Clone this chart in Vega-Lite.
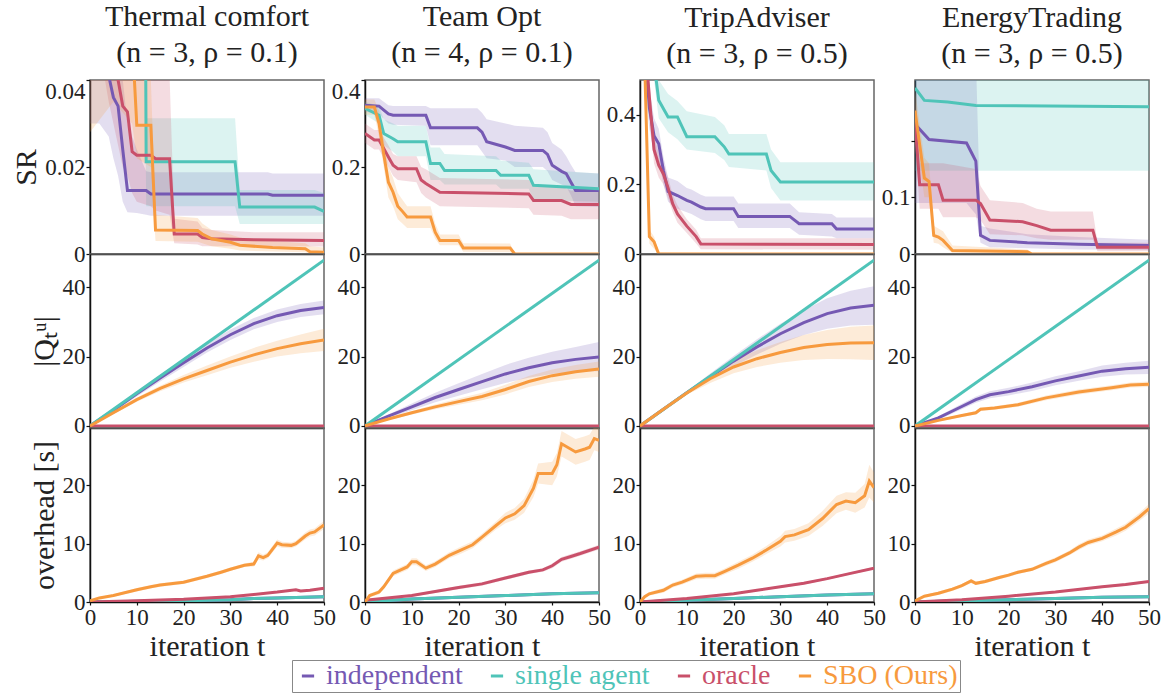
{
"$schema":"https://vega.github.io/schema/vega-lite/v6.json",
"background":"white",
"padding":{"left":11,"top":1,"right":5,"bottom":2},
"data":{"values":[
{"p":"a1","s":"I","t":0,"y":0.09,"l":0.03,"h":0.15},{"p":"a1","s":"I","t":2,"y":0.06,"l":0.03,"h":0.09},{"p":"a1","s":"I","t":4,"y":0.041,"l":0.027,"h":0.055},{"p":"a1","s":"I","t":5,"y":0.036,"l":0.022,"h":0.05},{"p":"a1","s":"I","t":6,"y":0.034,"l":0.018,"h":0.046},{"p":"a1","s":"I","t":7,"y":0.024,"l":0.012,"h":0.04},{"p":"a1","s":"I","t":8,"y":0.0146,"l":0.0096,"h":0.03},{"p":"a1","s":"I","t":10,"y":0.0146,"l":0.0094,"h":0.024},{"p":"a1","s":"I","t":12,"y":0.0146,"l":0.009,"h":0.019},{"p":"a1","s":"I","t":13,"y":0.0138,"l":0.0088,"h":0.0188},{"p":"a1","s":"I","t":38,"y":0.0138,"l":0.0088,"h":0.0188},{"p":"a1","s":"I","t":39,"y":0.0135,"l":0.0088,"h":0.0185},{"p":"a1","s":"I","t":50,"y":0.0135,"l":0.0088,"h":0.0185},
{"p":"a1","s":"S","t":0,"y":0.3,"l":0.2,"h":0.4},{"p":"a1","s":"S","t":11,"y":0.25,"l":0.15,"h":0.35},{"p":"a1","s":"S","t":12,"y":0.0212,"l":0.011,"h":0.0312},{"p":"a1","s":"S","t":31,"y":0.0212,"l":0.011,"h":0.0312},{"p":"a1","s":"S","t":32,"y":0.0108,"l":0.0069,"h":0.0147},{"p":"a1","s":"S","t":48,"y":0.0108,"l":0.0069,"h":0.0147},{"p":"a1","s":"S","t":50,"y":0.0098,"l":0.0069,"h":0.014},
{"p":"a1","s":"O","t":0,"y":0.1,"l":0.06,"h":0.14},{"p":"a1","s":"O","t":4,"y":0.06,"l":0.035,"h":0.08},{"p":"a1","s":"O","t":5,"y":0.05,"l":0.03,"h":0.07},{"p":"a1","s":"O","t":6,"y":0.04,"l":0.025,"h":0.06},{"p":"a1","s":"O","t":7,"y":0.034,"l":0.02,"h":0.05},{"p":"a1","s":"O","t":8,"y":0.0327,"l":0.018,"h":0.05},{"p":"a1","s":"O","t":9,"y":0.0235,"l":0.014,"h":0.045},{"p":"a1","s":"O","t":10,"y":0.0227,"l":0.012,"h":0.042},{"p":"a1","s":"O","t":13,"y":0.0227,"l":0.011,"h":0.042},{"p":"a1","s":"O","t":14,"y":0.0219,"l":0.01,"h":0.041},{"p":"a1","s":"O","t":17,"y":0.0219,"l":0.009,"h":0.041},{"p":"a1","s":"O","t":18,"y":0.0046,"l":0.0025,"h":0.0081},{"p":"a1","s":"O","t":23,"y":0.0046,"l":0.0022,"h":0.0075},{"p":"a1","s":"O","t":24,"y":0.0038,"l":0.0018,"h":0.006},{"p":"a1","s":"O","t":26,"y":0.0035,"l":0.0018,"h":0.0055},{"p":"a1","s":"O","t":35,"y":0.0033,"l":0.0018,"h":0.005},{"p":"a1","s":"O","t":50,"y":0.0031,"l":0.0017,"h":0.005},
{"p":"a1","s":"B","t":0,"y":0.12,"l":0.028,"h":0.2},{"p":"a1","s":"B","t":5,"y":0.08,"l":0.035,"h":0.12},{"p":"a1","s":"B","t":9,"y":0.05,"l":0.03,"h":0.07},{"p":"a1","s":"B","t":10,"y":0.0296,"l":0.022,"h":0.04},{"p":"a1","s":"B","t":13,"y":0.0296,"l":0.02,"h":0.04},{"p":"a1","s":"B","t":14,"y":0.0055,"l":0.003,"h":0.009},{"p":"a1","s":"B","t":23,"y":0.0054,"l":0.0028,"h":0.0083},{"p":"a1","s":"B","t":24,"y":0.0046,"l":0.0025,"h":0.007},{"p":"a1","s":"B","t":26,"y":0.0035,"l":0.0018,"h":0.0055},{"p":"a1","s":"B","t":30,"y":0.0027,"l":0.0012,"h":0.0045},{"p":"a1","s":"B","t":32,"y":0.002,"l":0.0008,"h":0.0038},{"p":"a1","s":"B","t":39,"y":0.0015,"l":0.0006,"h":0.003},{"p":"a1","s":"B","t":46,"y":0.0012,"l":0.0004,"h":0.0025},{"p":"a1","s":"B","t":47,"y":0.0005,"l":0,"h":0.0018},{"p":"a1","s":"B","t":50,"y":0.0004,"l":0,"h":0.0015},

{"p":"a2","s":"I","t":0,"y":0.342,"l":0.327,"h":0.358},{"p":"a2","s":"I","t":3,"y":0.34,"l":0.322,"h":0.358},{"p":"a2","s":"I","t":5,"y":0.322,"l":0.3,"h":0.342},{"p":"a2","s":"I","t":6,"y":0.319,"l":0.297,"h":0.34},{"p":"a2","s":"I","t":13,"y":0.319,"l":0.295,"h":0.34},{"p":"a2","s":"I","t":14,"y":0.29,"l":0.25,"h":0.335},{"p":"a2","s":"I","t":24,"y":0.29,"l":0.25,"h":0.335},{"p":"a2","s":"I","t":25,"y":0.28,"l":0.235,"h":0.325},{"p":"a2","s":"I","t":26,"y":0.258,"l":0.22,"h":0.31},{"p":"a2","s":"I","t":30,"y":0.246,"l":0.215,"h":0.3},{"p":"a2","s":"I","t":32,"y":0.238,"l":0.2,"h":0.295},{"p":"a2","s":"I","t":38,"y":0.238,"l":0.2,"h":0.29},{"p":"a2","s":"I","t":39,"y":0.229,"l":0.19,"h":0.28},{"p":"a2","s":"I","t":40,"y":0.204,"l":0.17,"h":0.255},{"p":"a2","s":"I","t":42,"y":0.19,"l":0.16,"h":0.24},{"p":"a2","s":"I","t":43,"y":0.185,"l":0.155,"h":0.225},{"p":"a2","s":"I","t":44,"y":0.165,"l":0.135,"h":0.205},{"p":"a2","s":"I","t":45,"y":0.146,"l":0.11,"h":0.188},{"p":"a2","s":"I","t":50,"y":0.146,"l":0.108,"h":0.185},
{"p":"a2","s":"S","t":0,"y":0.335,"l":0.32,"h":0.35},{"p":"a2","s":"S","t":3,"y":0.319,"l":0.3,"h":0.34},{"p":"a2","s":"S","t":4,"y":0.277,"l":0.25,"h":0.31},{"p":"a2","s":"S","t":6,"y":0.265,"l":0.235,"h":0.3},{"p":"a2","s":"S","t":7,"y":0.258,"l":0.225,"h":0.295},{"p":"a2","s":"S","t":13,"y":0.258,"l":0.225,"h":0.295},{"p":"a2","s":"S","t":14,"y":0.208,"l":0.17,"h":0.245},{"p":"a2","s":"S","t":16,"y":0.208,"l":0.17,"h":0.245},{"p":"a2","s":"S","t":17,"y":0.192,"l":0.16,"h":0.23},{"p":"a2","s":"S","t":28,"y":0.192,"l":0.16,"h":0.225},{"p":"a2","s":"S","t":29,"y":0.181,"l":0.15,"h":0.215},{"p":"a2","s":"S","t":35,"y":0.181,"l":0.15,"h":0.21},{"p":"a2","s":"S","t":36,"y":0.158,"l":0.125,"h":0.195},{"p":"a2","s":"S","t":50,"y":0.15,"l":0.12,"h":0.185},
{"p":"a2","s":"O","t":0,"y":0.277,"l":0.255,"h":0.3},{"p":"a2","s":"O","t":2,"y":0.262,"l":0.24,"h":0.285},{"p":"a2","s":"O","t":3,"y":0.262,"l":0.24,"h":0.285},{"p":"a2","s":"O","t":5,"y":0.223,"l":0.2,"h":0.25},{"p":"a2","s":"O","t":6,"y":0.204,"l":0.18,"h":0.23},{"p":"a2","s":"O","t":7,"y":0.196,"l":0.17,"h":0.225},{"p":"a2","s":"O","t":11,"y":0.196,"l":0.165,"h":0.225},{"p":"a2","s":"O","t":12,"y":0.17,"l":0.14,"h":0.2},{"p":"a2","s":"O","t":13,"y":0.162,"l":0.13,"h":0.195},{"p":"a2","s":"O","t":16,"y":0.142,"l":0.11,"h":0.175},{"p":"a2","s":"O","t":35,"y":0.138,"l":0.105,"h":0.17},{"p":"a2","s":"O","t":36,"y":0.123,"l":0.09,"h":0.16},{"p":"a2","s":"O","t":42,"y":0.123,"l":0.088,"h":0.155},{"p":"a2","s":"O","t":44,"y":0.114,"l":0.08,"h":0.146},{"p":"a2","s":"O","t":50,"y":0.114,"l":0.08,"h":0.146},
{"p":"a2","s":"B","t":0,"y":0.338,"l":0.32,"h":0.355},{"p":"a2","s":"B","t":2,"y":0.338,"l":0.32,"h":0.355},{"p":"a2","s":"B","t":3,"y":0.3,"l":0.27,"h":0.33},{"p":"a2","s":"B","t":4,"y":0.23,"l":0.2,"h":0.265},{"p":"a2","s":"B","t":5,"y":0.165,"l":0.13,"h":0.2},{"p":"a2","s":"B","t":6,"y":0.142,"l":0.11,"h":0.175},{"p":"a2","s":"B","t":7,"y":0.11,"l":0.08,"h":0.14},{"p":"a2","s":"B","t":8,"y":0.098,"l":0.07,"h":0.125},{"p":"a2","s":"B","t":9,"y":0.085,"l":0.06,"h":0.11},{"p":"a2","s":"B","t":14,"y":0.085,"l":0.06,"h":0.11},{"p":"a2","s":"B","t":15,"y":0.05,"l":0.035,"h":0.07},{"p":"a2","s":"B","t":16,"y":0.031,"l":0.02,"h":0.045},{"p":"a2","s":"B","t":20,"y":0.031,"l":0.02,"h":0.045},{"p":"a2","s":"B","t":21,"y":0.014,"l":0.005,"h":0.025},{"p":"a2","s":"B","t":31,"y":0.014,"l":0.004,"h":0.024},{"p":"a2","s":"B","t":32,"y":0,"l":0,"h":0.002},{"p":"a2","s":"B","t":50,"y":0,"l":0,"h":0},

{"p":"a3","s":"I","t":0,"y":0.8,"l":0.7,"h":0.9},{"p":"a3","s":"I","t":1,"y":0.6,"l":0.5,"h":0.7},{"p":"a3","s":"I","t":2,"y":0.42,"l":0.36,"h":0.48},{"p":"a3","s":"I","t":3,"y":0.34,"l":0.29,"h":0.39},{"p":"a3","s":"I","t":4,"y":0.317,"l":0.27,"h":0.36},{"p":"a3","s":"I","t":5,"y":0.24,"l":0.2,"h":0.28},{"p":"a3","s":"I","t":6,"y":0.18,"l":0.15,"h":0.22},{"p":"a3","s":"I","t":8,"y":0.168,"l":0.13,"h":0.21},{"p":"a3","s":"I","t":10,"y":0.154,"l":0.12,"h":0.19},{"p":"a3","s":"I","t":11,"y":0.149,"l":0.115,"h":0.185},{"p":"a3","s":"I","t":13,"y":0.135,"l":0.1,"h":0.17},{"p":"a3","s":"I","t":14,"y":0.13,"l":0.095,"h":0.165},{"p":"a3","s":"I","t":20,"y":0.13,"l":0.095,"h":0.165},{"p":"a3","s":"I","t":21,"y":0.108,"l":0.075,"h":0.145},{"p":"a3","s":"I","t":32,"y":0.108,"l":0.075,"h":0.145},{"p":"a3","s":"I","t":34,"y":0.087,"l":0.055,"h":0.12},{"p":"a3","s":"I","t":41,"y":0.087,"l":0.05,"h":0.115},{"p":"a3","s":"I","t":42,"y":0.072,"l":0.045,"h":0.105},{"p":"a3","s":"I","t":50,"y":0.072,"l":0.045,"h":0.105},
{"p":"a3","s":"S","t":0,"y":0.9,"l":0.8,"h":1},{"p":"a3","s":"S","t":3,"y":0.55,"l":0.5,"h":0.62},{"p":"a3","s":"S","t":4,"y":0.442,"l":0.39,"h":0.5},{"p":"a3","s":"S","t":6,"y":0.394,"l":0.35,"h":0.46},{"p":"a3","s":"S","t":8,"y":0.394,"l":0.33,"h":0.44},{"p":"a3","s":"S","t":10,"y":0.337,"l":0.3,"h":0.41},{"p":"a3","s":"S","t":16,"y":0.337,"l":0.29,"h":0.394},{"p":"a3","s":"S","t":18,"y":0.308,"l":0.27,"h":0.37},{"p":"a3","s":"S","t":19,"y":0.287,"l":0.25,"h":0.345},{"p":"a3","s":"S","t":27,"y":0.287,"l":0.24,"h":0.345},{"p":"a3","s":"S","t":28,"y":0.24,"l":0.19,"h":0.3},{"p":"a3","s":"S","t":30,"y":0.207,"l":0.154,"h":0.264},{"p":"a3","s":"S","t":50,"y":0.207,"l":0.154,"h":0.264},
{"p":"a3","s":"O","t":0,"y":0.8,"l":0.7,"h":0.9},{"p":"a3","s":"O","t":2,"y":0.45,"l":0.4,"h":0.5},{"p":"a3","s":"O","t":3,"y":0.3,"l":0.26,"h":0.34},{"p":"a3","s":"O","t":4,"y":0.255,"l":0.22,"h":0.29},{"p":"a3","s":"O","t":5,"y":0.23,"l":0.2,"h":0.26},{"p":"a3","s":"O","t":6,"y":0.19,"l":0.16,"h":0.22},{"p":"a3","s":"O","t":7,"y":0.144,"l":0.12,"h":0.17},{"p":"a3","s":"O","t":8,"y":0.115,"l":0.09,"h":0.14},{"p":"a3","s":"O","t":10,"y":0.08,"l":0.06,"h":0.1},{"p":"a3","s":"O","t":12,"y":0.05,"l":0.03,"h":0.07},{"p":"a3","s":"O","t":13,"y":0.029,"l":0.014,"h":0.045},{"p":"a3","s":"O","t":50,"y":0.027,"l":0.012,"h":0.045},
{"p":"a3","s":"B","t":0,"y":0.9,"l":0.8,"h":1},{"p":"a3","s":"B","t":1,"y":0.55,"l":0.45,"h":0.6},{"p":"a3","s":"B","t":2,"y":0.05,"l":0.03,"h":0.07},{"p":"a3","s":"B","t":3,"y":0.035,"l":0.015,"h":0.05},{"p":"a3","s":"B","t":4,"y":0,"l":0,"h":0.005},{"p":"a3","s":"B","t":50,"y":0,"l":0,"h":0},

{"p":"a4","s":"I","t":0,"y":0.229,"l":0.09,"h":0.4},{"p":"a4","s":"I","t":1,"y":0.22,"l":0.09,"h":0.4},{"p":"a4","s":"I","t":3,"y":0.202,"l":0.09,"h":0.4},{"p":"a4","s":"I","t":11,"y":0.196,"l":0.09,"h":0.4},{"p":"a4","s":"I","t":12,"y":0.18,"l":0.08,"h":0.38},{"p":"a4","s":"I","t":13,"y":0.164,"l":0.07,"h":0.35},{"p":"a4","s":"I","t":14,"y":0.033,"l":0.02,"h":0.05},{"p":"a4","s":"I","t":16,"y":0.024,"l":0.012,"h":0.045},{"p":"a4","s":"I","t":24,"y":0.02,"l":0.01,"h":0.035},{"p":"a4","s":"I","t":35,"y":0.017,"l":0.008,"h":0.03},{"p":"a4","s":"I","t":50,"y":0.015,"l":0.007,"h":0.025},
{"p":"a4","s":"S","t":0,"y":0.293,"l":0.147,"h":0.4},{"p":"a4","s":"S","t":2,"y":0.271,"l":0.147,"h":0.4},{"p":"a4","s":"S","t":7,"y":0.268,"l":0.147,"h":0.4},{"p":"a4","s":"S","t":13,"y":0.262,"l":0.147,"h":0.4},{"p":"a4","s":"S","t":50,"y":0.26,"l":0.147,"h":0.4},
{"p":"a4","s":"O","t":0,"y":0.235,"l":0.2,"h":0.27},{"p":"a4","s":"O","t":1,"y":0.122,"l":0.08,"h":0.16},{"p":"a4","s":"O","t":5,"y":0.122,"l":0.08,"h":0.16},{"p":"a4","s":"O","t":6,"y":0.095,"l":0.065,"h":0.16},{"p":"a4","s":"O","t":13,"y":0.095,"l":0.065,"h":0.15},{"p":"a4","s":"O","t":14,"y":0.089,"l":0.06,"h":0.12},{"p":"a4","s":"O","t":16,"y":0.06,"l":0.035,"h":0.095},{"p":"a4","s":"O","t":23,"y":0.057,"l":0.033,"h":0.09},{"p":"a4","s":"O","t":26,"y":0.05,"l":0.028,"h":0.08},{"p":"a4","s":"O","t":29,"y":0.042,"l":0.025,"h":0.075},{"p":"a4","s":"O","t":38,"y":0.042,"l":0.025,"h":0.075},{"p":"a4","s":"O","t":39,"y":0.012,"l":0.005,"h":0.02},{"p":"a4","s":"O","t":50,"y":0.012,"l":0.005,"h":0.02},
{"p":"a4","s":"B","t":0,"y":0.253,"l":0.22,"h":0.29},{"p":"a4","s":"B","t":1,"y":0.193,"l":0.16,"h":0.23},{"p":"a4","s":"B","t":2,"y":0.134,"l":0.1,"h":0.17},{"p":"a4","s":"B","t":3,"y":0.128,"l":0.1,"h":0.16},{"p":"a4","s":"B","t":4,"y":0.033,"l":0.02,"h":0.05},{"p":"a4","s":"B","t":5,"y":0.03,"l":0.018,"h":0.045},{"p":"a4","s":"B","t":6,"y":0.024,"l":0.012,"h":0.04},{"p":"a4","s":"B","t":8,"y":0.006,"l":0.002,"h":0.015},{"p":"a4","s":"B","t":24,"y":0.004,"l":0.001,"h":0.008},{"p":"a4","s":"B","t":25,"y":0,"l":0,"h":0.002},{"p":"a4","s":"B","t":50,"y":0,"l":0,"h":0},

{"p":"b1","s":"I","t":0,"y":0,"l":0,"h":0},{"p":"b1","s":"I","t":5,"y":4.5,"l":4,"h":5},{"p":"b1","s":"I","t":10,"y":9.3,"l":8.5,"h":10.1},{"p":"b1","s":"I","t":15,"y":13.8,"l":12.8,"h":14.8},{"p":"b1","s":"I","t":20,"y":18.2,"l":17,"h":19.4},{"p":"b1","s":"I","t":25,"y":22.5,"l":21.2,"h":23.8},{"p":"b1","s":"I","t":30,"y":26.3,"l":24.8,"h":27.8},{"p":"b1","s":"I","t":35,"y":29.5,"l":27.9,"h":31.1},{"p":"b1","s":"I","t":40,"y":31.8,"l":30,"h":33.6},{"p":"b1","s":"I","t":45,"y":33.3,"l":31.4,"h":35.2},{"p":"b1","s":"I","t":50,"y":34.2,"l":32.2,"h":36.2},
{"p":"b1","s":"S","t":0,"y":0,"l":0,"h":0},{"p":"b1","s":"S","t":50,"y":47.8,"l":47.8,"h":47.8},
{"p":"b1","s":"O","t":0,"y":0,"l":-0.3,"h":0.3},{"p":"b1","s":"O","t":50,"y":0,"l":-0.3,"h":0.3},
{"p":"b1","s":"B","t":0,"y":0,"l":0,"h":0},{"p":"b1","s":"B","t":5,"y":3.8,"l":3.4,"h":4.2},{"p":"b1","s":"B","t":10,"y":7.6,"l":7,"h":8.2},{"p":"b1","s":"B","t":15,"y":10.8,"l":10,"h":11.6},{"p":"b1","s":"B","t":20,"y":13.6,"l":12.5,"h":14.7},{"p":"b1","s":"B","t":25,"y":16,"l":14.6,"h":17.4},{"p":"b1","s":"B","t":30,"y":18.4,"l":16.8,"h":20},{"p":"b1","s":"B","t":35,"y":20.5,"l":18.5,"h":22.5},{"p":"b1","s":"B","t":40,"y":22.3,"l":20,"h":24.6},{"p":"b1","s":"B","t":45,"y":23.7,"l":21,"h":26.4},{"p":"b1","s":"B","t":50,"y":24.8,"l":21.6,"h":28},

{"p":"b2","s":"I","t":0,"y":0,"l":0,"h":0},{"p":"b2","s":"I","t":5,"y":2.8,"l":2.3,"h":3.3},{"p":"b2","s":"I","t":10,"y":5.5,"l":4.5,"h":6.5},{"p":"b2","s":"I","t":15,"y":8.2,"l":6.8,"h":9.6},{"p":"b2","s":"I","t":20,"y":10.5,"l":8.7,"h":12.3},{"p":"b2","s":"I","t":25,"y":12.8,"l":10.6,"h":15},{"p":"b2","s":"I","t":30,"y":15,"l":12.4,"h":17.6},{"p":"b2","s":"I","t":35,"y":16.8,"l":13.9,"h":19.7},{"p":"b2","s":"I","t":40,"y":18.2,"l":15,"h":21.4},{"p":"b2","s":"I","t":45,"y":19.2,"l":15.6,"h":22.8},{"p":"b2","s":"I","t":50,"y":19.9,"l":15.8,"h":24.2},
{"p":"b2","s":"S","t":0,"y":0,"l":0,"h":0},{"p":"b2","s":"S","t":50,"y":47.8,"l":47.8,"h":47.8},
{"p":"b2","s":"O","t":0,"y":0,"l":-0.3,"h":0.3},{"p":"b2","s":"O","t":50,"y":0,"l":-0.3,"h":0.3},
{"p":"b2","s":"B","t":0,"y":0,"l":0,"h":0},{"p":"b2","s":"B","t":5,"y":2,"l":1.7,"h":2.3},{"p":"b2","s":"B","t":10,"y":3.8,"l":3.3,"h":4.3},{"p":"b2","s":"B","t":15,"y":5.5,"l":4.8,"h":6.2},{"p":"b2","s":"B","t":20,"y":7,"l":6.1,"h":7.9},{"p":"b2","s":"B","t":25,"y":8.5,"l":7.4,"h":9.6},{"p":"b2","s":"B","t":30,"y":10.5,"l":9.1,"h":11.9},{"p":"b2","s":"B","t":35,"y":12.8,"l":11.2,"h":14.4},{"p":"b2","s":"B","t":40,"y":14.5,"l":12.7,"h":16.3},{"p":"b2","s":"B","t":45,"y":15.6,"l":13.6,"h":17.6},{"p":"b2","s":"B","t":50,"y":16.4,"l":14.2,"h":18.6},

{"p":"b3","s":"I","t":0,"y":0,"l":0,"h":0},{"p":"b3","s":"I","t":5,"y":4.8,"l":4.6,"h":5},{"p":"b3","s":"I","t":10,"y":9.6,"l":9.2,"h":10},{"p":"b3","s":"I","t":15,"y":14.2,"l":13.3,"h":15.1},{"p":"b3","s":"I","t":20,"y":18.7,"l":17.2,"h":20.2},{"p":"b3","s":"I","t":25,"y":22.8,"l":20.6,"h":25},{"p":"b3","s":"I","t":30,"y":26.6,"l":23.7,"h":29.5},{"p":"b3","s":"I","t":35,"y":29.8,"l":26.2,"h":33.4},{"p":"b3","s":"I","t":40,"y":32.4,"l":28,"h":36.8},{"p":"b3","s":"I","t":45,"y":34,"l":29,"h":39},{"p":"b3","s":"I","t":50,"y":34.8,"l":29.2,"h":40.3},
{"p":"b3","s":"S","t":0,"y":0,"l":0,"h":0},{"p":"b3","s":"S","t":50,"y":47.8,"l":47.8,"h":47.8},
{"p":"b3","s":"O","t":0,"y":0,"l":-0.3,"h":0.3},{"p":"b3","s":"O","t":50,"y":0,"l":-0.3,"h":0.3},
{"p":"b3","s":"B","t":0,"y":0,"l":0,"h":0},{"p":"b3","s":"B","t":5,"y":4.8,"l":4.6,"h":5},{"p":"b3","s":"B","t":10,"y":9.5,"l":9,"h":10},{"p":"b3","s":"B","t":15,"y":13.6,"l":12.4,"h":14.8},{"p":"b3","s":"B","t":20,"y":17,"l":15.2,"h":18.8},{"p":"b3","s":"B","t":25,"y":19.4,"l":17,"h":21.8},{"p":"b3","s":"B","t":30,"y":21.2,"l":18.2,"h":24.2},{"p":"b3","s":"B","t":35,"y":22.6,"l":19,"h":26.2},{"p":"b3","s":"B","t":40,"y":23.5,"l":19.3,"h":27.7},{"p":"b3","s":"B","t":45,"y":23.9,"l":19.2,"h":28.6},{"p":"b3","s":"B","t":50,"y":24,"l":19,"h":29},

{"p":"b4","s":"I","t":0,"y":0,"l":0,"h":0},{"p":"b4","s":"I","t":5,"y":2.3,"l":1.8,"h":2.8},{"p":"b4","s":"I","t":10,"y":5.6,"l":4.8,"h":6.4},{"p":"b4","s":"I","t":13,"y":7.6,"l":6.7,"h":8.5},{"p":"b4","s":"I","t":16,"y":9,"l":8,"h":10},{"p":"b4","s":"I","t":20,"y":9.9,"l":8.8,"h":11},{"p":"b4","s":"I","t":25,"y":11.3,"l":10.1,"h":12.5},{"p":"b4","s":"I","t":30,"y":13,"l":11.7,"h":14.3},{"p":"b4","s":"I","t":35,"y":14.4,"l":13,"h":15.8},{"p":"b4","s":"I","t":40,"y":15.8,"l":14.2,"h":17.4},{"p":"b4","s":"I","t":45,"y":16.5,"l":14.8,"h":18.2},{"p":"b4","s":"I","t":50,"y":16.9,"l":15,"h":18.8},
{"p":"b4","s":"S","t":0,"y":0,"l":0,"h":0},{"p":"b4","s":"S","t":50,"y":47.8,"l":47.8,"h":47.8},
{"p":"b4","s":"O","t":0,"y":0,"l":-0.3,"h":0.3},{"p":"b4","s":"O","t":50,"y":0,"l":-0.3,"h":0.3},
{"p":"b4","s":"B","t":0,"y":0,"l":0,"h":0},{"p":"b4","s":"B","t":5,"y":1.6,"l":1.3,"h":1.9},{"p":"b4","s":"B","t":10,"y":3,"l":2.6,"h":3.4},{"p":"b4","s":"B","t":13,"y":3.8,"l":3.3,"h":4.3},{"p":"b4","s":"B","t":14,"y":4.8,"l":4.3,"h":5.3},{"p":"b4","s":"B","t":17,"y":5.2,"l":4.7,"h":5.7},{"p":"b4","s":"B","t":22,"y":6.1,"l":5.5,"h":6.7},{"p":"b4","s":"B","t":28,"y":8.1,"l":7.4,"h":8.8},{"p":"b4","s":"B","t":35,"y":9.8,"l":9.1,"h":10.5},{"p":"b4","s":"B","t":42,"y":11,"l":10.3,"h":11.7},{"p":"b4","s":"B","t":46,"y":11.8,"l":11.1,"h":12.5},{"p":"b4","s":"B","t":50,"y":12,"l":11.2,"h":12.8},

{"p":"c1","s":"I","t":0,"y":0,"l":0,"h":0},{"p":"c1","s":"I","t":20,"y":0.2,"l":0.1,"h":0.3},{"p":"c1","s":"I","t":30,"y":0.4,"l":0.3,"h":0.5},{"p":"c1","s":"I","t":35,"y":0.6,"l":0.5,"h":0.7},{"p":"c1","s":"I","t":40,"y":0.7,"l":0.6,"h":0.8},{"p":"c1","s":"I","t":50,"y":0.9,"l":0.8,"h":1},
{"p":"c1","s":"S","t":0,"y":0,"l":0,"h":0},{"p":"c1","s":"S","t":20,"y":0.2,"l":0.1,"h":0.3},{"p":"c1","s":"S","t":30,"y":0.4,"l":0.3,"h":0.5},{"p":"c1","s":"S","t":35,"y":0.6,"l":0.5,"h":0.7},{"p":"c1","s":"S","t":40,"y":0.7,"l":0.6,"h":0.8},{"p":"c1","s":"S","t":50,"y":0.9,"l":0.8,"h":1},
{"p":"c1","s":"O","t":0,"y":0,"l":0,"h":0.15},{"p":"c1","s":"O","t":10,"y":0.2,"l":0.05,"h":0.35},{"p":"c1","s":"O","t":20,"y":0.45,"l":0.3,"h":0.6},{"p":"c1","s":"O","t":30,"y":0.9,"l":0.75,"h":1.05},{"p":"c1","s":"O","t":35,"y":1.3,"l":1.15,"h":1.45},{"p":"c1","s":"O","t":40,"y":1.7,"l":1.55,"h":1.85},{"p":"c1","s":"O","t":44,"y":2.1,"l":1.95,"h":2.25},{"p":"c1","s":"O","t":45,"y":1.9,"l":1.75,"h":2.05},{"p":"c1","s":"O","t":47,"y":2,"l":1.85,"h":2.15},{"p":"c1","s":"O","t":50,"y":2.35,"l":2.2,"h":2.5},
{"p":"c1","s":"B","t":0,"y":0.2,"l":0.1,"h":0.3},{"p":"c1","s":"B","t":2,"y":0.7,"l":0.5,"h":0.9},{"p":"c1","s":"B","t":5,"y":1.1,"l":0.9,"h":1.3},{"p":"c1","s":"B","t":10,"y":2.1,"l":1.8,"h":2.4},{"p":"c1","s":"B","t":13,"y":2.6,"l":2.3,"h":2.9},{"p":"c1","s":"B","t":15,"y":2.9,"l":2.6,"h":3.2},{"p":"c1","s":"B","t":20,"y":3.4,"l":3.1,"h":3.7},{"p":"c1","s":"B","t":25,"y":4.4,"l":4.1,"h":4.7},{"p":"c1","s":"B","t":28,"y":5.1,"l":4.8,"h":5.4},{"p":"c1","s":"B","t":30,"y":5.6,"l":5.3,"h":5.9},{"p":"c1","s":"B","t":33,"y":6.3,"l":6,"h":6.6},{"p":"c1","s":"B","t":35,"y":6.5,"l":6.1,"h":6.9},{"p":"c1","s":"B","t":36,"y":7.9,"l":7.3,"h":8.5},{"p":"c1","s":"B","t":37,"y":7.6,"l":7.1,"h":8.1},{"p":"c1","s":"B","t":38,"y":8,"l":7.5,"h":8.5},{"p":"c1","s":"B","t":40,"y":10.1,"l":9.5,"h":10.7},{"p":"c1","s":"B","t":41,"y":9.8,"l":9.3,"h":10.3},{"p":"c1","s":"B","t":43,"y":9.7,"l":9.2,"h":10.2},{"p":"c1","s":"B","t":44,"y":10,"l":9.5,"h":10.5},{"p":"c1","s":"B","t":46,"y":11.3,"l":10.7,"h":11.9},{"p":"c1","s":"B","t":47,"y":11.8,"l":11.2,"h":12.4},{"p":"c1","s":"B","t":48,"y":12,"l":11.4,"h":12.6},{"p":"c1","s":"B","t":50,"y":13.2,"l":12.5,"h":13.9},

{"p":"c2","s":"I","t":0,"y":0,"l":0,"h":0},{"p":"c2","s":"I","t":10,"y":0.5,"l":0.4,"h":0.6},{"p":"c2","s":"I","t":20,"y":0.8,"l":0.7,"h":0.9},{"p":"c2","s":"I","t":30,"y":1.1,"l":1,"h":1.2},{"p":"c2","s":"I","t":40,"y":1.4,"l":1.3,"h":1.5},{"p":"c2","s":"I","t":50,"y":1.6,"l":1.5,"h":1.7},
{"p":"c2","s":"S","t":0,"y":0,"l":0,"h":0},{"p":"c2","s":"S","t":10,"y":0.5,"l":0.4,"h":0.6},{"p":"c2","s":"S","t":20,"y":0.8,"l":0.7,"h":0.9},{"p":"c2","s":"S","t":30,"y":1.1,"l":1,"h":1.2},{"p":"c2","s":"S","t":40,"y":1.4,"l":1.3,"h":1.5},{"p":"c2","s":"S","t":50,"y":1.6,"l":1.5,"h":1.7},
{"p":"c2","s":"O","t":0,"y":0.3,"l":0.2,"h":0.4},{"p":"c2","s":"O","t":10,"y":1.1,"l":0.9,"h":1.3},{"p":"c2","s":"O","t":20,"y":2.5,"l":2.2,"h":2.8},{"p":"c2","s":"O","t":25,"y":3.1,"l":2.8,"h":3.4},{"p":"c2","s":"O","t":30,"y":4.1,"l":3.8,"h":4.4},{"p":"c2","s":"O","t":35,"y":5.1,"l":4.8,"h":5.4},{"p":"c2","s":"O","t":38,"y":5.5,"l":5.2,"h":5.8},{"p":"c2","s":"O","t":40,"y":6.2,"l":5.8,"h":6.6},{"p":"c2","s":"O","t":42,"y":7.3,"l":6.9,"h":7.7},{"p":"c2","s":"O","t":44,"y":7.8,"l":7.4,"h":8.2},{"p":"c2","s":"O","t":46,"y":8.3,"l":7.9,"h":8.7},{"p":"c2","s":"O","t":50,"y":9.4,"l":9,"h":9.8},
{"p":"c2","s":"B","t":0,"y":0,"l":0,"h":0},{"p":"c2","s":"B","t":1,"y":1.1,"l":0.8,"h":1.4},{"p":"c2","s":"B","t":3,"y":1.7,"l":1.3,"h":2.1},{"p":"c2","s":"B","t":4,"y":2.6,"l":2.2,"h":3},{"p":"c2","s":"B","t":6,"y":4.9,"l":4.4,"h":5.4},{"p":"c2","s":"B","t":9,"y":6,"l":5.5,"h":6.5},{"p":"c2","s":"B","t":10,"y":6.9,"l":6.3,"h":7.5},{"p":"c2","s":"B","t":11,"y":6.9,"l":6.3,"h":7.5},{"p":"c2","s":"B","t":13,"y":5.8,"l":5.3,"h":6.3},{"p":"c2","s":"B","t":15,"y":6.5,"l":6,"h":7},{"p":"c2","s":"B","t":18,"y":8,"l":7.5,"h":8.5},{"p":"c2","s":"B","t":20,"y":8.7,"l":8.1,"h":9.3},{"p":"c2","s":"B","t":23,"y":9.8,"l":9.2,"h":10.4},{"p":"c2","s":"B","t":25,"y":11.1,"l":10.5,"h":11.7},{"p":"c2","s":"B","t":28,"y":13.1,"l":12.4,"h":13.8},{"p":"c2","s":"B","t":30,"y":14.4,"l":13.5,"h":15.3},{"p":"c2","s":"B","t":32,"y":15.1,"l":14.1,"h":16.1},{"p":"c2","s":"B","t":34,"y":16.5,"l":15.3,"h":17.7},{"p":"c2","s":"B","t":36,"y":19.5,"l":18,"h":21},{"p":"c2","s":"B","t":37,"y":22,"l":20.3,"h":23.7},{"p":"c2","s":"B","t":40,"y":22,"l":20,"h":24},{"p":"c2","s":"B","t":41,"y":23.5,"l":21.5,"h":25.5},{"p":"c2","s":"B","t":42,"y":27.1,"l":24.9,"h":29.3},{"p":"c2","s":"B","t":45,"y":25.7,"l":23.5,"h":27.9},{"p":"c2","s":"B","t":47,"y":26.2,"l":24,"h":28.4},{"p":"c2","s":"B","t":48,"y":26.5,"l":24.3,"h":28.7},{"p":"c2","s":"B","t":49,"y":28,"l":26,"h":30},{"p":"c2","s":"B","t":50,"y":27.7,"l":25.7,"h":29.7},

{"p":"c3","s":"I","t":0,"y":0,"l":0,"h":0},{"p":"c3","s":"I","t":10,"y":0.3,"l":0.2,"h":0.4},{"p":"c3","s":"I","t":20,"y":0.6,"l":0.5,"h":0.7},{"p":"c3","s":"I","t":30,"y":0.9,"l":0.8,"h":1},{"p":"c3","s":"I","t":40,"y":1.2,"l":1.1,"h":1.3},{"p":"c3","s":"I","t":50,"y":1.4,"l":1.3,"h":1.5},
{"p":"c3","s":"S","t":0,"y":0,"l":0,"h":0},{"p":"c3","s":"S","t":10,"y":0.3,"l":0.2,"h":0.4},{"p":"c3","s":"S","t":20,"y":0.6,"l":0.5,"h":0.7},{"p":"c3","s":"S","t":30,"y":0.9,"l":0.8,"h":1},{"p":"c3","s":"S","t":40,"y":1.2,"l":1.1,"h":1.3},{"p":"c3","s":"S","t":50,"y":1.4,"l":1.3,"h":1.5},
{"p":"c3","s":"O","t":0,"y":0,"l":0,"h":0.1},{"p":"c3","s":"O","t":10,"y":0.6,"l":0.45,"h":0.75},{"p":"c3","s":"O","t":20,"y":1.4,"l":1.25,"h":1.55},{"p":"c3","s":"O","t":25,"y":2,"l":1.85,"h":2.15},{"p":"c3","s":"O","t":30,"y":2.6,"l":2.4,"h":2.8},{"p":"c3","s":"O","t":35,"y":3.2,"l":3,"h":3.4},{"p":"c3","s":"O","t":40,"y":4,"l":3.8,"h":4.2},{"p":"c3","s":"O","t":45,"y":4.9,"l":4.7,"h":5.1},{"p":"c3","s":"O","t":50,"y":5.8,"l":5.6,"h":6},
{"p":"c3","s":"B","t":0,"y":0,"l":0,"h":0},{"p":"c3","s":"B","t":1,"y":0.9,"l":0.6,"h":1.2},{"p":"c3","s":"B","t":2,"y":1.4,"l":1.1,"h":1.7},{"p":"c3","s":"B","t":5,"y":2,"l":1.6,"h":2.4},{"p":"c3","s":"B","t":7,"y":2.9,"l":2.5,"h":3.3},{"p":"c3","s":"B","t":9,"y":3.4,"l":3,"h":3.8},{"p":"c3","s":"B","t":12,"y":4.4,"l":3.9,"h":4.9},{"p":"c3","s":"B","t":14,"y":4.5,"l":4,"h":5},{"p":"c3","s":"B","t":16,"y":4.5,"l":4,"h":5},{"p":"c3","s":"B","t":18,"y":5.2,"l":4.7,"h":5.7},{"p":"c3","s":"B","t":21,"y":6.3,"l":5.7,"h":6.9},{"p":"c3","s":"B","t":24,"y":7.5,"l":6.9,"h":8.1},{"p":"c3","s":"B","t":27,"y":8.9,"l":8.2,"h":9.6},{"p":"c3","s":"B","t":30,"y":10.4,"l":9.5,"h":11.3},{"p":"c3","s":"B","t":31,"y":11.2,"l":10.2,"h":12.2},{"p":"c3","s":"B","t":33,"y":11.5,"l":10.5,"h":12.5},{"p":"c3","s":"B","t":36,"y":12.4,"l":11.3,"h":13.5},{"p":"c3","s":"B","t":39,"y":14.3,"l":13,"h":15.6},{"p":"c3","s":"B","t":42,"y":16.7,"l":15.2,"h":18.2},{"p":"c3","s":"B","t":44,"y":17.3,"l":15.8,"h":18.8},{"p":"c3","s":"B","t":46,"y":17,"l":15.3,"h":18.7},{"p":"c3","s":"B","t":48,"y":18.2,"l":16.2,"h":20.2},{"p":"c3","s":"B","t":49,"y":20.7,"l":17.9,"h":23.5},{"p":"c3","s":"B","t":50,"y":19.6,"l":17,"h":22.2},

{"p":"c4","s":"I","t":0,"y":0,"l":0,"h":0},{"p":"c4","s":"I","t":10,"y":0.2,"l":0.1,"h":0.3},{"p":"c4","s":"I","t":20,"y":0.4,"l":0.3,"h":0.5},{"p":"c4","s":"I","t":30,"y":0.6,"l":0.5,"h":0.7},{"p":"c4","s":"I","t":40,"y":0.8,"l":0.7,"h":0.9},{"p":"c4","s":"I","t":50,"y":0.9,"l":0.8,"h":1},
{"p":"c4","s":"S","t":0,"y":0,"l":0,"h":0},{"p":"c4","s":"S","t":10,"y":0.2,"l":0.1,"h":0.3},{"p":"c4","s":"S","t":20,"y":0.4,"l":0.3,"h":0.5},{"p":"c4","s":"S","t":30,"y":0.6,"l":0.5,"h":0.7},{"p":"c4","s":"S","t":40,"y":0.8,"l":0.7,"h":0.9},{"p":"c4","s":"S","t":50,"y":0.9,"l":0.8,"h":1},
{"p":"c4","s":"O","t":0,"y":0,"l":0,"h":0.1},{"p":"c4","s":"O","t":10,"y":0.4,"l":0.3,"h":0.5},{"p":"c4","s":"O","t":20,"y":1,"l":0.85,"h":1.15},{"p":"c4","s":"O","t":30,"y":1.7,"l":1.55,"h":1.85},{"p":"c4","s":"O","t":40,"y":2.6,"l":2.4,"h":2.8},{"p":"c4","s":"O","t":45,"y":3,"l":2.8,"h":3.2},{"p":"c4","s":"O","t":50,"y":3.5,"l":3.3,"h":3.7},
{"p":"c4","s":"B","t":0,"y":0.2,"l":0.1,"h":0.3},{"p":"c4","s":"B","t":2,"y":1,"l":0.8,"h":1.2},{"p":"c4","s":"B","t":5,"y":1.5,"l":1.2,"h":1.8},{"p":"c4","s":"B","t":8,"y":2.2,"l":1.9,"h":2.5},{"p":"c4","s":"B","t":10,"y":2.8,"l":2.5,"h":3.1},{"p":"c4","s":"B","t":12,"y":3.6,"l":3.2,"h":4},{"p":"c4","s":"B","t":13,"y":3.2,"l":2.9,"h":3.5},{"p":"c4","s":"B","t":15,"y":3.5,"l":3.2,"h":3.8},{"p":"c4","s":"B","t":18,"y":4.2,"l":3.9,"h":4.5},{"p":"c4","s":"B","t":20,"y":4.6,"l":4.3,"h":4.9},{"p":"c4","s":"B","t":22,"y":5.1,"l":4.8,"h":5.4},{"p":"c4","s":"B","t":25,"y":5.6,"l":5.3,"h":5.9},{"p":"c4","s":"B","t":28,"y":6.6,"l":6.2,"h":7},{"p":"c4","s":"B","t":30,"y":7.2,"l":6.8,"h":7.6},{"p":"c4","s":"B","t":33,"y":8.4,"l":8,"h":8.8},{"p":"c4","s":"B","t":35,"y":9.4,"l":8.9,"h":9.9},{"p":"c4","s":"B","t":37,"y":10.2,"l":9.7,"h":10.7},{"p":"c4","s":"B","t":40,"y":10.9,"l":10.4,"h":11.4},{"p":"c4","s":"B","t":43,"y":12,"l":11.4,"h":12.6},{"p":"c4","s":"B","t":45,"y":12.8,"l":12.2,"h":13.4},{"p":"c4","s":"B","t":48,"y":14.6,"l":13.9,"h":15.3},{"p":"c4","s":"B","t":50,"y":16,"l":15.2,"h":16.8}
]},
"columns":4,
"spacing":{"row":0,"column":41},
"bounds":"flush",
"resolve":{"scale":{"x":"independent","y":"independent"}},
"concat":[
{"width":234,"height":174,"title":{"text":["Thermal comfort","(n = 3, ρ = 0.1)"],"fontWeight":"normal"},"transform":[{"filter":"datum.p=='a1'"}],
 "encoding":{"x":{"field":"t","type":"quantitative","scale":{"domain":[0,50],"nice":false},"axis":{"labels":false,"ticks":false,"title":null}},
  "color":{"field":"s","type":"nominal","scale":{"domain":["I","S","O","B"],"range":["#7559b3","#4fc4b8","#c9506a","#f79a3e"]},"legend":{"title":null,"orient":"none","legendX":202,"legendY":580,"direction":"horizontal","labelExpr":"datum.label=='I'?'independent':datum.label=='S'?'single agent':datum.label=='O'?'oracle':'SBO (Ours)'","symbolType":"stroke","symbolSize":150,"symbolStrokeWidth":3,"symbolOpacity":1,"labelFont":"Liberation Serif, Times New Roman, serif","labelFontSize":28,"labelOffset":4,"columnPadding":20,"strokeColor":"#888","padding":2,"encode":{"labels":{"update":{"fill":{"signal":"scale('color', datum.value)"},"font":{"value":"Liberation Serif, Times New Roman, serif"}}}}}}},
 "layer":[{"mark":{"type":"area","opacity":0.2,"clip":true},"encoding":{"y":{"field":"l","type":"quantitative","scale":{"domain":[0,0.04],"nice":false,"zero":false},"axis":{"title":"SR","values":[0,0.02,0.04],"format":"~g","labelFont":"Liberation Serif, Times New Roman, serif","titleFont":"Liberation Serif, Times New Roman, serif","labelBaseline":{"condition":{"test":"datum.value > 0.039","value":"top"},"value":"middle"}}},"y2":{"field":"h"}}},
  {"mark":{"type":"line","strokeWidth":3,"clip":true},"encoding":{"y":{"field":"y","type":"quantitative","scale":{"domain":[0,0.04],"nice":false,"zero":false},"axis":{"title":"SR","values":[0,0.02,0.04],"format":"~g","labelFont":"Liberation Serif, Times New Roman, serif","titleFont":"Liberation Serif, Times New Roman, serif","labelBaseline":{"condition":{"test":"datum.value > 0.039","value":"top"},"value":"middle"}}}}}]},
{"width":234,"height":174,"title":{"text":["Team Opt","(n = 4, ρ = 0.1)"],"fontWeight":"normal"},"transform":[{"filter":"datum.p=='a2'"}],
 "encoding":{"x":{"field":"t","type":"quantitative","scale":{"domain":[0,50],"nice":false},"axis":{"labels":false,"ticks":false,"title":null}},
  "color":{"field":"s","type":"nominal","scale":{"domain":["I","S","O","B"],"range":["#7559b3","#4fc4b8","#c9506a","#f79a3e"]}}},
 "layer":[{"mark":{"type":"area","opacity":0.2,"clip":true},"encoding":{"y":{"field":"l","type":"quantitative","scale":{"domain":[0,0.4],"nice":false,"zero":false},"axis":{"title":null,"values":[0,0.2,0.4],"format":"~g","labelFont":"Liberation Serif, Times New Roman, serif","labelBaseline":{"condition":{"test":"datum.value > 0.39","value":"top"},"value":"middle"}}},"y2":{"field":"h"}}},
  {"mark":{"type":"line","strokeWidth":3,"clip":true},"encoding":{"y":{"field":"y","type":"quantitative","scale":{"domain":[0,0.4],"nice":false,"zero":false},"axis":{"title":null,"values":[0,0.2,0.4],"format":"~g","labelFont":"Liberation Serif, Times New Roman, serif","labelBaseline":{"condition":{"test":"datum.value > 0.39","value":"top"},"value":"middle"}}}}}]},
{"width":234,"height":174,"title":{"text":["TripAdviser","(n = 3, ρ = 0.5)"],"fontWeight":"normal"},"transform":[{"filter":"datum.p=='a3'"}],
 "encoding":{"x":{"field":"t","type":"quantitative","scale":{"domain":[0,50],"nice":false},"axis":{"labels":false,"ticks":false,"title":null}},
  "color":{"field":"s","type":"nominal","scale":{"domain":["I","S","O","B"],"range":["#7559b3","#4fc4b8","#c9506a","#f79a3e"]}}},
 "layer":[{"mark":{"type":"area","opacity":0.2,"clip":true},"encoding":{"y":{"field":"l","type":"quantitative","scale":{"domain":[0,0.5],"nice":false,"zero":false},"axis":{"title":null,"values":[0,0.2,0.4],"format":"~g","labelFont":"Liberation Serif, Times New Roman, serif"}},"y2":{"field":"h"}}},
  {"mark":{"type":"line","strokeWidth":3,"clip":true},"encoding":{"y":{"field":"y","type":"quantitative","scale":{"domain":[0,0.5],"nice":false,"zero":false},"axis":{"title":null,"values":[0,0.2,0.4],"format":"~g","labelFont":"Liberation Serif, Times New Roman, serif"}}}}]},
{"width":234,"height":174,"title":{"text":["EnergyTrading","(n = 3, ρ = 0.5)"],"fontWeight":"normal"},"transform":[{"filter":"datum.p=='a4'"}],
 "encoding":{"x":{"field":"t","type":"quantitative","scale":{"domain":[0,50],"nice":false},"axis":{"labels":false,"ticks":false,"title":null}},
  "color":{"field":"s","type":"nominal","scale":{"domain":["I","S","O","B"],"range":["#7559b3","#4fc4b8","#c9506a","#f79a3e"]}}},
 "layer":[{"mark":{"type":"area","opacity":0.2,"clip":true},"encoding":{"y":{"field":"l","type":"quantitative","scale":{"domain":[0,0.307],"nice":false,"zero":false},"axis":{"title":null,"values":[0,0.1,0.2],"format":"~g","labelFont":"Liberation Serif, Times New Roman, serif","labelExpr":"datum.value > 0.15 ? '' : datum.label"}},"y2":{"field":"h"}}},
  {"mark":{"type":"line","strokeWidth":3,"clip":true},"encoding":{"y":{"field":"y","type":"quantitative","scale":{"domain":[0,0.307],"nice":false,"zero":false},"axis":{"title":null,"values":[0,0.1,0.2],"format":"~g","labelFont":"Liberation Serif, Times New Roman, serif","labelExpr":"datum.value > 0.15 ? '' : datum.label"}}}}]},

{"width":234,"height":174,"transform":[{"filter":"datum.p=='b1'"}],
 "encoding":{"x":{"field":"t","type":"quantitative","scale":{"domain":[0,50],"nice":false},"axis":{"labels":false,"ticks":false,"title":null}},
  "color":{"field":"s","type":"nominal","scale":{"domain":["I","S","O","B"],"range":["#7559b3","#4fc4b8","#c9506a","#f79a3e"]}}},
 "layer":[{"mark":{"type":"area","opacity":0.2,"clip":true},"encoding":{"y":{"field":"l","type":"quantitative","scale":{"domain":[-0.6,49.6],"nice":false,"zero":false},"axis":{"title":"|Qₜᵘ|","values":[0,20,40],"labelFont":"Liberation Serif, Times New Roman, serif","titleFont":"Liberation Serif, Times New Roman, serif"}},"y2":{"field":"h"}}},
  {"mark":{"type":"line","strokeWidth":3,"clip":true},"encoding":{"y":{"field":"y","type":"quantitative","scale":{"domain":[-0.6,49.6],"nice":false,"zero":false},"axis":{"title":"|Qₜᵘ|","values":[0,20,40],"labelFont":"Liberation Serif, Times New Roman, serif","titleFont":"Liberation Serif, Times New Roman, serif"}}}}]},
{"width":234,"height":174,"transform":[{"filter":"datum.p=='b2'"}],
 "encoding":{"x":{"field":"t","type":"quantitative","scale":{"domain":[0,50],"nice":false},"axis":{"labels":false,"ticks":false,"title":null}},
  "color":{"field":"s","type":"nominal","scale":{"domain":["I","S","O","B"],"range":["#7559b3","#4fc4b8","#c9506a","#f79a3e"]}}},
 "layer":[{"mark":{"type":"area","opacity":0.2,"clip":true},"encoding":{"y":{"field":"l","type":"quantitative","scale":{"domain":[-0.6,49.6],"nice":false,"zero":false},"axis":{"title":null,"values":[0,20,40],"labelFont":"Liberation Serif, Times New Roman, serif"}},"y2":{"field":"h"}}},
  {"mark":{"type":"line","strokeWidth":3,"clip":true},"encoding":{"y":{"field":"y","type":"quantitative","scale":{"domain":[-0.6,49.6],"nice":false,"zero":false},"axis":{"title":null,"values":[0,20,40],"labelFont":"Liberation Serif, Times New Roman, serif"}}}}]},
{"width":234,"height":174,"transform":[{"filter":"datum.p=='b3'"}],
 "encoding":{"x":{"field":"t","type":"quantitative","scale":{"domain":[0,50],"nice":false},"axis":{"labels":false,"ticks":false,"title":null}},
  "color":{"field":"s","type":"nominal","scale":{"domain":["I","S","O","B"],"range":["#7559b3","#4fc4b8","#c9506a","#f79a3e"]}}},
 "layer":[{"mark":{"type":"area","opacity":0.2,"clip":true},"encoding":{"y":{"field":"l","type":"quantitative","scale":{"domain":[-0.6,49.6],"nice":false,"zero":false},"axis":{"title":null,"values":[0,20,40],"labelFont":"Liberation Serif, Times New Roman, serif"}},"y2":{"field":"h"}}},
  {"mark":{"type":"line","strokeWidth":3,"clip":true},"encoding":{"y":{"field":"y","type":"quantitative","scale":{"domain":[-0.6,49.6],"nice":false,"zero":false},"axis":{"title":null,"values":[0,20,40],"labelFont":"Liberation Serif, Times New Roman, serif"}}}}]},
{"width":234,"height":174,"transform":[{"filter":"datum.p=='b4'"}],
 "encoding":{"x":{"field":"t","type":"quantitative","scale":{"domain":[0,50],"nice":false},"axis":{"labels":false,"ticks":false,"title":null}},
  "color":{"field":"s","type":"nominal","scale":{"domain":["I","S","O","B"],"range":["#7559b3","#4fc4b8","#c9506a","#f79a3e"]}}},
 "layer":[{"mark":{"type":"area","opacity":0.2,"clip":true},"encoding":{"y":{"field":"l","type":"quantitative","scale":{"domain":[-0.6,49.6],"nice":false,"zero":false},"axis":{"title":null,"values":[0,20,40],"labelFont":"Liberation Serif, Times New Roman, serif"}},"y2":{"field":"h"}}},
  {"mark":{"type":"line","strokeWidth":3,"clip":true},"encoding":{"y":{"field":"y","type":"quantitative","scale":{"domain":[-0.6,49.6],"nice":false,"zero":false},"axis":{"title":null,"values":[0,20,40],"labelFont":"Liberation Serif, Times New Roman, serif"}}}}]},

{"width":234,"height":174,"transform":[{"filter":"datum.p=='c1'"}],
 "encoding":{"x":{"field":"t","type":"quantitative","scale":{"domain":[0,50],"nice":false},"axis":{"values":[0,10,20,30,40,50],"title":"iteration t","labelFlush":false,"tickSize":3,"labelPadding":1,"titlePadding":2,"labelFont":"Liberation Serif, Times New Roman, serif","titleFont":"Liberation Serif, Times New Roman, serif"}},
  "color":{"field":"s","type":"nominal","scale":{"domain":["I","S","O","B"],"range":["#7559b3","#4fc4b8","#c9506a","#f79a3e"]}}},
 "layer":[{"mark":{"type":"area","opacity":0.2,"clip":true},"encoding":{"y":{"field":"l","type":"quantitative","scale":{"domain":[0,29.8],"nice":false,"zero":false},"axis":{"title":"overhead [s]","values":[0,10,20],"labelFont":"Liberation Serif, Times New Roman, serif","titleFont":"Liberation Serif, Times New Roman, serif"}},"y2":{"field":"h"}}},
  {"mark":{"type":"line","strokeWidth":3,"clip":true},"encoding":{"y":{"field":"y","type":"quantitative","scale":{"domain":[0,29.8],"nice":false,"zero":false},"axis":{"title":"overhead [s]","values":[0,10,20],"labelFont":"Liberation Serif, Times New Roman, serif","titleFont":"Liberation Serif, Times New Roman, serif"}}}}]},
{"width":234,"height":174,"transform":[{"filter":"datum.p=='c2'"}],
 "encoding":{"x":{"field":"t","type":"quantitative","scale":{"domain":[0,50],"nice":false},"axis":{"values":[0,10,20,30,40,50],"title":"iteration t","labelFlush":false,"tickSize":3,"labelPadding":1,"titlePadding":2,"labelFont":"Liberation Serif, Times New Roman, serif","titleFont":"Liberation Serif, Times New Roman, serif"}},
  "color":{"field":"s","type":"nominal","scale":{"domain":["I","S","O","B"],"range":["#7559b3","#4fc4b8","#c9506a","#f79a3e"]}}},
 "layer":[{"mark":{"type":"area","opacity":0.2,"clip":true},"encoding":{"y":{"field":"l","type":"quantitative","scale":{"domain":[0,29.8],"nice":false,"zero":false},"axis":{"title":null,"values":[0,10,20],"labelFont":"Liberation Serif, Times New Roman, serif"}},"y2":{"field":"h"}}},
  {"mark":{"type":"line","strokeWidth":3,"clip":true},"encoding":{"y":{"field":"y","type":"quantitative","scale":{"domain":[0,29.8],"nice":false,"zero":false},"axis":{"title":null,"values":[0,10,20],"labelFont":"Liberation Serif, Times New Roman, serif"}}}}]},
{"width":234,"height":174,"transform":[{"filter":"datum.p=='c3'"}],
 "encoding":{"x":{"field":"t","type":"quantitative","scale":{"domain":[0,50],"nice":false},"axis":{"values":[0,10,20,30,40,50],"title":"iteration t","labelFlush":false,"tickSize":3,"labelPadding":1,"titlePadding":2,"labelFont":"Liberation Serif, Times New Roman, serif","titleFont":"Liberation Serif, Times New Roman, serif"}},
  "color":{"field":"s","type":"nominal","scale":{"domain":["I","S","O","B"],"range":["#7559b3","#4fc4b8","#c9506a","#f79a3e"]}}},
 "layer":[{"mark":{"type":"area","opacity":0.2,"clip":true},"encoding":{"y":{"field":"l","type":"quantitative","scale":{"domain":[0,29.8],"nice":false,"zero":false},"axis":{"title":null,"values":[0,10,20],"labelFont":"Liberation Serif, Times New Roman, serif"}},"y2":{"field":"h"}}},
  {"mark":{"type":"line","strokeWidth":3,"clip":true},"encoding":{"y":{"field":"y","type":"quantitative","scale":{"domain":[0,29.8],"nice":false,"zero":false},"axis":{"title":null,"values":[0,10,20],"labelFont":"Liberation Serif, Times New Roman, serif"}}}}]},
{"width":234,"height":174,"transform":[{"filter":"datum.p=='c4'"}],
 "encoding":{"x":{"field":"t","type":"quantitative","scale":{"domain":[0,50],"nice":false},"axis":{"values":[0,10,20,30,40,50],"title":"iteration t","labelFlush":false,"tickSize":3,"labelPadding":1,"titlePadding":2,"labelFont":"Liberation Serif, Times New Roman, serif","titleFont":"Liberation Serif, Times New Roman, serif"}},
  "color":{"field":"s","type":"nominal","scale":{"domain":["I","S","O","B"],"range":["#7559b3","#4fc4b8","#c9506a","#f79a3e"]}}},
 "layer":[{"mark":{"type":"area","opacity":0.2,"clip":true},"encoding":{"y":{"field":"l","type":"quantitative","scale":{"domain":[0,29.8],"nice":false,"zero":false},"axis":{"title":null,"values":[0,10,20],"labelFont":"Liberation Serif, Times New Roman, serif"}},"y2":{"field":"h"}}},
  {"mark":{"type":"line","strokeWidth":3,"clip":true},"encoding":{"y":{"field":"y","type":"quantitative","scale":{"domain":[0,29.8],"nice":false,"zero":false},"axis":{"title":null,"values":[0,10,20],"labelFont":"Liberation Serif, Times New Roman, serif"}}}}]}
],
"config":{
 "font":"Liberation Serif, Times New Roman, serif",
 "view":{"stroke":"#666","strokeWidth":1.5},
 "style":{"guide-label":{"font":"Liberation Serif, Times New Roman, serif"},"guide-title":{"font":"Liberation Serif, Times New Roman, serif"}},
 "axis":{"grid":false,"labelFont":"Liberation Serif, Times New Roman, serif","labelFontSize":23,"labelColor":"#222","titleFont":"Liberation Serif, Times New Roman, serif","titleFontSize":30,"titleFontWeight":"normal","titleColor":"#222","domainColor":"#111","domainWidth":1.5,"tickColor":"#111","tickWidth":1.2,"tickSize":4},
 "axisY":{"labelPadding":1,"titlePadding":3},
 "legend":{"labelFont":"Liberation Serif, Times New Roman, serif"},
 "title":{"font":"Liberation Serif, Times New Roman, serif","fontSize":30,"fontWeight":"normal","color":"#222","lineHeight":36,"offset":11,"anchor":"middle"}
}
}
